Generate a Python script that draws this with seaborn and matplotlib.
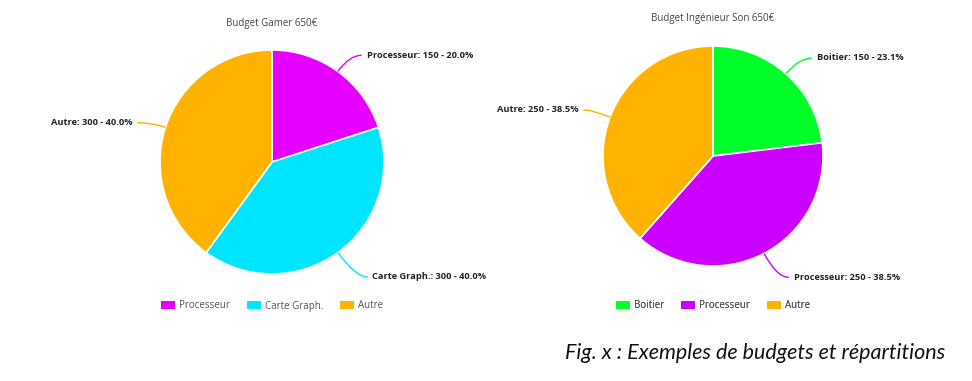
import numpy as np
import matplotlib
matplotlib.use("Agg")
import matplotlib.pyplot as plt
from matplotlib.path import Path
from matplotlib.patches import PathPatch, Patch
import seaborn as sns

# ---- data ----
titles = ["Budget Gamer 650€", "Budget Ingénieur Son 650€"]
cats1 = ["Processeur", "Carte Graph.", "Autre"]
vals1 = [150, 300, 300]
cols1 = ["#E600FF", "#00E5FF", "#FFB300"]
cats2 = ["Boitier", "Processeur", "Autre"]
vals2 = [150, 250, 250]
cols2 = ["#00FF2A", "#CC00FF", "#FFB300"]
caption = "Fig. x : Exemples de budgets et répartitions"

sns.set_theme(style="white")
plt.rcParams['font.family'] = ['Open Sans', 'DejaVu Sans']

W, H = 972, 381
fig = plt.figure(figsize=(W / 100, H / 100), dpi=100)
ax = fig.add_axes([0, 0, 1, 1])
ax.set_axis_off()


def Y(y):  # pixel-from-top to data (y up)
    return H - y


def draw(cats, vals, cols, title, cx, cy, r, ty, ly, legs):
    center = (cx, Y(cy))
    wedges, _ = ax.pie(vals, colors=cols, startangle=90, counterclock=False,
                       radius=r, center=center,
                       wedgeprops=dict(edgecolor="white", linewidth=1.2))
    total = sum(vals)
    for w, c, v, col, (l1, l2) in zip(wedges, cats, vals, cols, legs):
        mid = np.deg2rad((w.theta1 + w.theta2) / 2)
        ca, sa = np.cos(mid), np.sin(mid)
        p0 = (center[0] + r * ca, center[1] + r * sa)
        p1 = (center[0] + (r + l1) * ca, center[1] + (r + l1) * sa)
        side = 1 if ca >= 0 else -1
        p2 = (p1[0] + side * l2, p1[1])
        path = Path([p0, p1, p2], [Path.MOVETO, Path.CURVE3, Path.CURVE3])
        ax.add_patch(PathPatch(path, fc="none", ec=col, lw=1))
        ax.text(p2[0] + side * 5, p2[1], f"{c}: {v} - {100 * v / total:.1f}%",
                ha="left" if side > 0 else "right", va="center",
                fontsize=6.7, fontweight="bold", color="#222222")
    ax.text(cx, Y(ty), title, ha="center", va="center", fontsize=7.0, color="#444444")
    handles = [Patch(facecolor=col, edgecolor="none", label=c) for c, col in zip(cats, cols)]
    leg = ax.legend(handles=handles, loc="center", bbox_to_anchor=(cx, Y(ly)),
                    bbox_transform=ax.transData, ncol=3, frameon=False,
                    fontsize=7.0, handlelength=1.45, handleheight=0.95,
                    handletextpad=0.4, columnspacing=1.75, labelcolor="#555555")
    ax.add_artist(leg)


draw(cats1, vals1, cols1, titles[0], 272, 162, 112, 23.5, 306,
     [(20, 12), (30, 12), (15, 14)])
draw(cats2, vals2, cols2, titles[1], 713, 156, 110, 19, 306,
     [(21, 12), (27, 12), (20, 8)])

ax.text(945, Y(353), caption, ha="right", va="center", fontsize=15.5,
        fontstyle="italic", family=["Lato", "DejaVu Sans"], color="#111111")

ax.set_xlim(0, W)
ax.set_ylim(0, H)
ax.set_aspect("equal")

fig.savefig("out.png", dpi=100, facecolor="white")
